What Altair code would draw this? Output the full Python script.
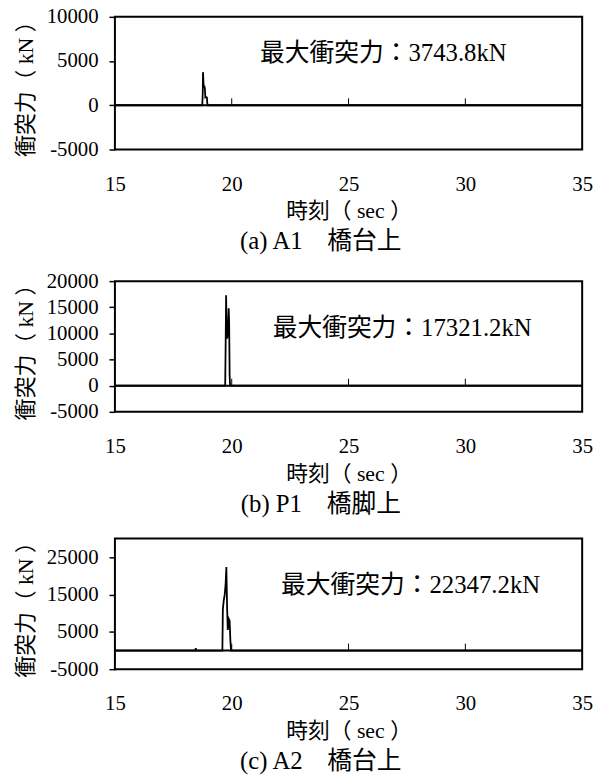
import altair as alt
import pandas as pd

# ---------------- data ----------------
time_a = [15.0, 18.74, 18.76, 18.77, 18.79, 18.80, 18.83, 18.85, 18.87, 18.89, 18.92, 18.94, 18.95, 18.97, 35.0]
force_a = [0, 0, 1500, 3743.8, 2600, 2200, 2150, 1900, 900, 950, 900, 850, 300, 0, 0]

time_b = [15.0, 19.72, 19.74, 19.76, 19.78, 19.80, 19.82, 19.84, 19.87, 19.89, 19.91, 19.93, 35.0]
force_b = [0, 0, 8000, 17321.2, 11000, 9000, 9500, 11000, 14800, 12000, 2000, 0, 0]

time_c = [15.0, 18.44, 18.46, 18.48, 19.60, 19.62, 19.66, 19.70, 19.74, 19.77, 19.80, 19.83, 19.86, 19.88, 19.91, 19.94, 19.97, 35.0]
force_c = [0, 0, 600, 0, 0, 11000, 13500, 15000, 18000, 22347.2, 12000, 5500, 7000, 8400, 8000, 3000, 0, 0]

x_tick_labels = [15, 20, 25, 30, 35]
x_major_ticks = [20, 25, 30]
y_ticks_a = [-5000, 0, 5000, 10000]
y_ticks_b = [-5000, 0, 5000, 10000, 15000, 20000]
y_ticks_c = [-5000, 5000, 15000, 25000]

peak_labels = ["最大衝突力：3743.8kN", "最大衝突力：17321.2kN", "最大衝突力：22347.2kN"]
captions = ["(a) A1　橋台上", "(b) P1　橋脚上", "(c) A2　橋台上"]
x_title = "時刻（ sec ）"
y_title = "衝突力（ kN ）"

MIX = "Liberation Serif, Noto Sans CJK JP"
W = 472

LABEL_PROPS = dict(labelFont=MIX, labelFontSize=21, labelColor="black",
                   titleFont=MIX, titleFontSize=22, titleFontWeight="normal",
                   titleColor="black", grid=False, domain=False,
                   labelOverlap=False, labelExpr="'' + datum.value")


def panel(times, forces, ydom, yticks, peak, caption, h, ann_t, ann_f):
    xs = alt.Scale(domain=[15, 35], nice=False, zero=False)
    ys = alt.Scale(domain=ydom, nice=False, zero=False)
    tick_len = 7 * (ydom[1] - ydom[0]) / h

    xaxis = alt.Axis(values=x_tick_labels, title=x_title, ticks=False,
                     labelPadding=24, titlePadding=7, labelFlush=False, **LABEL_PROPS)
    yaxis = alt.Axis(values=yticks, title=y_title, ticks=True, tickColor="black",
                     tickSize=6, tickWidth=1.5, labelPadding=11, titlePadding=9,
                     **LABEL_PROPS)

    line = alt.Chart(pd.DataFrame({"t": times, "f": forces})).mark_line(
        color="black", strokeWidth=1.8, clip=True
    ).encode(
        x=alt.X("t:Q", scale=xs, axis=xaxis),
        y=alt.Y("f:Q", scale=ys, axis=yaxis),
    )

    zero = alt.Chart(pd.DataFrame({"t": [15], "t1": [35], "f": [0]})).mark_rule(
        color="black", strokeWidth=2
    ).encode(
        x=alt.X("t:Q", scale=xs, axis=xaxis), x2="t1:Q",
        y=alt.Y("f:Q", scale=ys, axis=yaxis),
    )

    ticks = alt.Chart(pd.DataFrame({"t": x_major_ticks, "f": [0] * len(x_major_ticks),
                                    "f1": [tick_len] * len(x_major_ticks)})).mark_rule(
        color="black", strokeWidth=1
    ).encode(
        x=alt.X("t:Q", scale=xs, axis=xaxis),
        y=alt.Y("f:Q", scale=ys, axis=yaxis), y2="f1:Q",
    )

    ann = alt.Chart(pd.DataFrame({"t": [ann_t], "f": [ann_f], "s": [peak]})).mark_text(
        align="right", baseline="middle", font=MIX, fontSize=25, color="black"
    ).encode(
        x=alt.X("t:Q", scale=xs, axis=xaxis),
        y=alt.Y("f:Q", scale=ys, axis=yaxis),
        text="s:N",
    )

    return alt.layer(line, zero, ticks, ann).properties(
        width=W, height=h,
        title=alt.TitleParams(caption, orient="bottom", font=MIX, fontSize=25,
                              fontWeight="normal", color="black", offset=8,
                              anchor="middle", frame="group", dx=-28),
    )


p1 = panel(time_a, force_a, [-5000, 10000], y_ticks_a, peak_labels[0], captions[0], 134, 31.77, 5900)
p2 = panel(time_b, force_b, [-5000, 20000], y_ticks_b, peak_labels[1], captions[1], 132, 32.84, 11100)
p3 = panel(time_c, force_c, [-5000, 30000], y_ticks_c, peak_labels[2], captions[2], 132, 33.2, 17500)

chart = alt.vconcat(alt.vconcat(p1, p2, spacing=14), p3, spacing=12).properties(
    padding={"left": 5, "top": -7, "right": 5, "bottom": 0}
).configure(
    style={"guide-label": {"font": MIX, "fontSize": 21, "fill": "black"},
           "guide-title": {"font": MIX, "fontSize": 22, "fill": "black"}}
).configure_view(
    stroke="black", strokeWidth=2
).configure_axis(
    labelFont=MIX, labelFontSize=21, labelColor="black", labelOverlap=False,
    titleFont=MIX, titleFontSize=22, titleFontWeight="normal", titleColor="black",
)

chart.save("out.html", embed_options={"renderer": "svg", "actions": False})
